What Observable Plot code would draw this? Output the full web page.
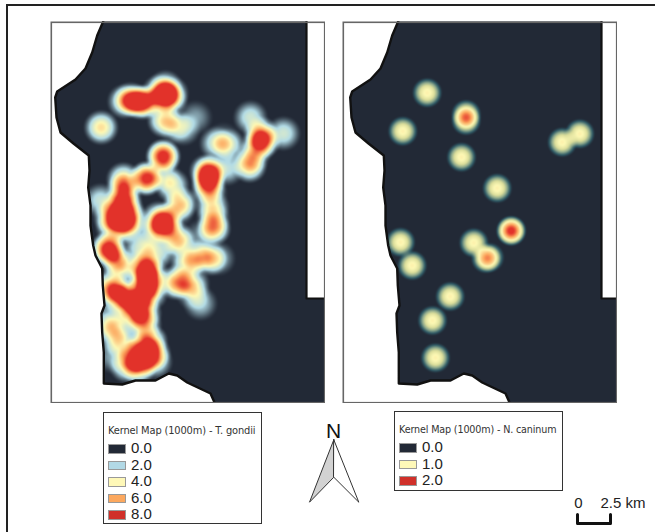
<!DOCTYPE html>
<html><head><meta charset="utf-8">
<script src="https://cdn.jsdelivr.net/npm/d3@7"></script>
<script src="https://cdn.jsdelivr.net/npm/@observablehq/plot@0.6"></script>
<style>
html,body{margin:0;padding:0;background:#fff;}
#page{position:relative;width:655px;height:532px;overflow:hidden;}
.panel{position:absolute;top:21px;}
.panel svg{display:block;}
.legend{position:absolute;box-sizing:border-box;border:1.5px solid #333;background:#fff;}
.legend .t{position:absolute;left:4px;top:12px;font:10px "DejaVu Sans",sans-serif;color:#333;white-space:nowrap;letter-spacing:-.15px;}
.legend .r{position:absolute;left:4px;height:16.6px;}
.legend .s{position:absolute;left:0;top:3px;width:18px;height:9.5px;box-sizing:border-box;border:.5px solid #999;}
.legend .v{position:absolute;left:23px;top:-2px;font:15px/17px "Liberation Sans",sans-serif;color:#222;}
#overlay{position:absolute;left:0;top:0;}
#edgeL{position:absolute;left:6px;top:5px;width:2px;height:527px;background:#222;}
#edgeT{position:absolute;left:6px;top:4px;width:649px;height:2px;background:#222;}
</style></head><body><div id="page">
<div id="edgeL"></div><div id="edgeT"></div>
<div class="panel" id="p1" style="left:50px"></div>
<div class="panel" id="p2" style="left:342px"></div>
<div id="overlay"></div>
</div>
<script>
// coast outline, panel map units
const coastX=[52.7,46.7,41.7,35,25,6.7,4.7,6,10,23,38.3,39,37.7,40,40,42.7,45,51.7,52.3,54,51,51.7,53.3,53.3,71.7,85,105,118.3,126.7,136.7,143,160,164];
const coastY=[0,14,31,47,58,70,76,96,111,122,134,149,166,184,204,224,234,247,264,284,292,311,331,362,363,359,359,352,354,361,364,372,381];
const insetX=[256,256,275];
const insetY=[0,277,277];

const rampDark="#222936", rampBlue="#b2dbe6", rampYellow="#fdf8b4", rampOrange="#fca75e", rampRed="#e2322a";

// T. gondii hotspots (panel units): x, y, weight
const gondiiHotspots=[
[50.7,106,4.6],
[74,80,3.6],[80,78,4],[86,80,4.4],[92,81,4.4],[97,80,3.4],
[109,70,3.6],[115,66,3.6],[121,72,3.6],[115,74,3.6],[120,78,3.4],[110,78,2.6],
[114,99,4.6],[125,105,1.8],[133,107,2.2],[145,96,1.4],
[112.7,135,9],[96,157,8.6],
[73,158,4.4],[73,168,4.4],[74,178,4.4],[66,186,4.4],[76,188,4.4],[60,196,4.4],[70,197,4.4],[80,197,4.4],[62,205,3.4],[72,206,3.4],[79,205,2.4],[50,179,2.6],
[121.7,164,3.6],[113,154,1.6],[130,182,4.2],[127,189,1.6],
[156,150,4.5],[160,150,4],[158,158,5],[158,166,4.5],[160,172,1.6],[162,186,3.4],[163,197,2.4],[163,207,5.6],
[166,122,3],[178,124,3],[173,118,1],
[210,112,4.4],[213,119,4.4],[208,124,4.4],[202,135,2.4],[199,144,5],
[200,96,2.8],[233,112,2.8],[176.7,147,2.4],
[108,197,4.2],[116,198,4.2],[108,206,4.2],[116,206,4.2],[127,218,4.6],
[58,227,9],[70,244,5],[63,236,2.4],
[95,243,4.4],[92,250,4.4],[100,252,4.4],[95,260,4.4],[102,262,3.6],[93,270,4.4],[100,272,3.4],
[60,265,5],[70,270,4],[62,275,2.6],[80,275,4],[72,280,3.4],[85,285,4],[78,290,2.6],[92,282,3],[94,292,4],[85,298,2.6],[94,303,4],
[100,320,5],[92,326,5],[103,332,5],[84,335,5],[94,338,5],[76,344,4],[88,346,5],[105,340,3],
[72,322,3.6],[65,307,3],[58,300,2.6],[63,335,1.6],[60,315,1.6],
[125,261,4.6],[90,227,3],[107,231,3],[137,241,1.8],[100,215,1.6],
[148,235,3.8],[160,237,3.8],[168,237,1.8],
[142,262,3],[137,243,2.4],[150,282,2],[132,262,2.6],[143,272,2],[130,225,1.2],[150,215,1.2]
];

// N. caninum hotspots (panel units)
const caninumX=[84.7,60.3,123.7,123.7,119,154.7,219.7,237.3,168.7,168.7,58,69.7,131.3,143.5,147,107.7,90,93];
const caninumY=[71.3,109.7,93,99,135.7,166.7,120.7,112.3,209.3,209.3,220.7,244,221.3,237,236,275,299,336.3];
const caninumW=[.95,.95,1,1,.95,.95,.95,.95,1.05,1.05,.95,.95,.95,.95,.75,.95,.95,.95];

const gondii=gondiiHotspots.map(([x,y,w])=>({x,y,w}));
const caninum=caninumX.map((x,i)=>({x,y:caninumY[i],w:caninumW[i]}));

function mapPanel(target,pts,R,domain,range,dx,w){
  const cx=coastX.map(v=>v+dx), ix=insetX.map(v=>v+dx);
  const poly=[...cx.map((x,i)=>[x,coastY[i]]),[275,381],[275,277],[ix[1],277],[ix[0],0]];
  const kde=(x,y)=>{
    if(!d3.polygonContains(poly,[x,y]))return NaN;
    let s=0;for(const p of pts){const q=((x-p.x)**2+(y-p.y)**2)/(R*R);if(q<1)s+=p.w*(1-q)*(1-q);}return s;
  };
  const svg=Plot.plot({
    width:w,height:382,margin:0,
    x:{domain:[0,w],axis:null},y:{domain:[382,0],axis:null},
    color:{type:"linear",domain,range,clamp:true},
    marks:[
      Plot.raster({fill:kde,x1:0,x2:w,y1:0,y2:382,pixelSize:1}),
      Plot.line(cx.map((x,i)=>({x,y:coastY[i]})),{x:"x",y:"y",stroke:"#111",strokeWidth:2.4}),
      Plot.line(ix.map((x,i)=>({x,y:insetY[i]})),{x:"x",y:"y",stroke:"#111",strokeWidth:2.2}),
      Plot.frame({stroke:"#666",strokeWidth:1.6,inset:.8})
    ]
  });
  document.querySelector(target).append(svg);
}
mapPanel("#p1",gondii,19,[0,2,4,6,8],[rampDark,rampBlue,rampYellow,rampOrange,rampRed],0,275);
mapPanel("#p2",caninum,16,[0,.12,.35,.6,.9,1.5,2],[rampDark,"#2f5a66","#8da88c","#d9dc9a",rampYellow,rampOrange,rampRed],3,275);

// legends
function legend(left,top,w,h,title,labels,colors,fs){
  const L=d3.select("#page").append("div").attr("class","legend")
    .style("left",left+"px").style("top",top+"px").style("width",w+"px").style("height",h+"px");
  L.append("div").attr("class","t").style("font-size",fs+"px").text(title);
  labels.forEach((l,i)=>{
    const r=L.append("div").attr("class","r").style("top",(28+i*16.6)+"px");
    r.append("div").attr("class","s").style("background",colors[i]);
    r.append("div").attr("class","v").text(l);
  });
}
const gondiiLabels=["0.0","2.0","4.0","6.0","8.0"], gondiiSwatch=["#222936","#b2d9e6","#fef8b8","#fca85e","#d0302a"];
const caninumLabels=["0.0","1.0","2.0"], caninumSwatch=["#222936","#fef8b8","#d0302a"];
legend(103,412,159,112,"Kernel Map (1000m) -  T. gondii",gondiiLabels,gondiiSwatch,9.9);
legend(394,411,169,80,"Kernel Map (1000m) - N. caninum",caninumLabels,caninumSwatch,9.6);

// north arrow and scale bar
const arrowLeft=[{x:333.3,y:439.3},{x:309,y:501.7},{x:333.3,y:476.7}];
const arrowRight=[{x:333.3,y:439.3},{x:358.3,y:501.7},{x:333.3,y:476.7}];
const scaleBar=[{x:577,y:514},{x:577,y:523},{x:610,y:523},{x:610,y:514}];
const overlay=Plot.plot({
  width:655,height:532,margin:0,
  x:{domain:[0,655],axis:null},y:{domain:[532,0],axis:null},
  style:{background:"transparent"},
  marks:[
    Plot.line(arrowLeft,{x:"x",y:"y",fill:"#d2d2d2",stroke:"#333",strokeWidth:1,curve:"linear-closed"}),
    Plot.line(arrowRight,{x:"x",y:"y",fill:"#fff",stroke:"#333",strokeWidth:1,curve:"linear-closed"}),
    Plot.text(["N"],{x:[333],y:[431],fontSize:21,fontFamily:"Liberation Sans",fill:"#111"}),
    Plot.line(scaleBar,{x:"x",y:"y",stroke:"#111",strokeWidth:3}),
    Plot.text(["0"],{x:[578],y:[503],fontSize:15,fontFamily:"Liberation Sans",fill:"#222"}),
    Plot.text(["2.5 km"],{x:[600],y:[503],textAnchor:"start",fontSize:15,fontFamily:"Liberation Sans",fill:"#222"})
  ]
});
document.querySelector("#overlay").append(overlay);
</script></body></html>
